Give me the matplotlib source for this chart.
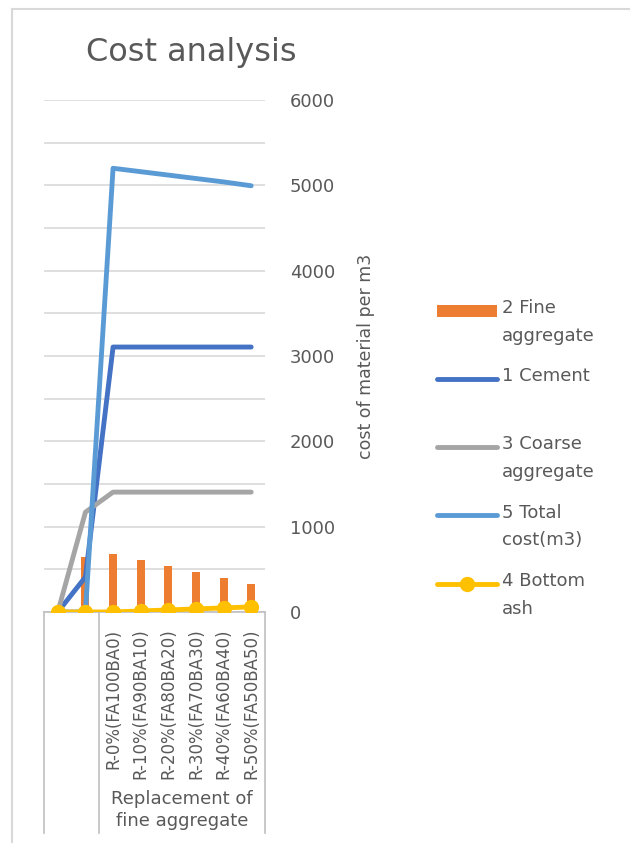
import numpy as np
import matplotlib
matplotlib.use("Agg")
import matplotlib.pyplot as plt
from matplotlib.lines import Line2D
from matplotlib.transforms import Affine2D
from matplotlib.legend_handler import HandlerLine2D, HandlerPatch, update_from_first_child

# data
categories = ["", "", "R-0%(FA100BA0)", "R-10%(FA90BA10)", "R-20%(FA80BA20)",
              "R-30%(FA70BA30)", "R-40%(FA60BA40)", "R-50%(FA50BA50)"]
fine_agg = [0, 645, 678, 610, 540, 470, 400, 330]
cement = [0, 410, 3105, 3105, 3105, 3105, 3105, 3105]
coarse_agg = [0, 1170, 1405, 1405, 1405, 1405, 1405, 1405]
total_cost = [0, 0, 5200, 5160, 5120, 5080, 5040, 4995]
bottom_ash = [0, 0, 0, 12, 24, 36, 48, 60]
group_label = "Replacement of\nfine aggregate"

TXT = "#595959"
GRID = "#d9d9d9"
W, H = 630, 843

plt.rcParams["font.family"] = ["DejaVu Sans"]

fig = plt.figure(figsize=(W / 100, H / 100), dpi=100)
ax = fig.add_axes([44 / W, (H - 612) / H, (265 - 44) / W, (612 - 100) / H])

x = np.arange(len(categories))
bars = ax.bar(x, fine_agg, width=0.29, color="#ED7D31", zorder=2, label="2 Fine\naggregate")
l_cem, = ax.plot(x, cement, color="#4472C4", lw=3.5, solid_capstyle="round",
                 solid_joinstyle="round", zorder=3, label="1 Cement\n ")
l_ca, = ax.plot(x, coarse_agg, color="#A5A5A5", lw=3.5, solid_capstyle="round",
                solid_joinstyle="round", zorder=3, label="3 Coarse\naggregate")
l_tot, = ax.plot(x, total_cost, color="#5B9BD5", lw=3.5, solid_capstyle="round",
                 solid_joinstyle="round", zorder=4, label="5 Total\ncost(m3)")
l_ba, = ax.plot(x, bottom_ash, color="#FFC000", lw=3.5, marker="o", markersize=10,
                solid_capstyle="round", zorder=5, label="4 Bottom\nash")

ax.set_xlim(-0.5, len(categories) - 0.5)
ax.set_ylim(0, 6000)
ax.set_yticks(np.arange(0, 6001, 1000))
ax.set_yticks(np.arange(500, 6000, 1000), minor=True)
ax.grid(axis="y", which="both", color=GRID, lw=1.2, zorder=0)
ax.set_axisbelow(True)
ax.yaxis.tick_right()
ax.tick_params(axis="y", which="both", length=0, pad=18, labelsize=13, labelcolor=TXT)
ax.yaxis.set_label_position("right")
ax.set_ylabel("cost of material per m3", fontsize=12.5, color=TXT, labelpad=16)

ax.set_xticks(x)
ax.set_xticklabels(categories, rotation=90, fontsize=12, color=TXT, va="top")
ax.tick_params(axis="x", length=0, pad=12)

for s in ["top", "left", "right"]:
    ax.spines[s].set_visible(False)
ax.spines["bottom"].set_color("#bfbfbf")
ax.spines["bottom"].set_linewidth(1.2)

# multi-level category axis dividers
depth = -(833 - 612) / (612 - 100)
for xd in [-0.5, 1.5, len(categories) - 0.5]:
    ax.plot([xd, xd], [0, depth], transform=ax.get_xaxis_transform(),
            color="#bfbfbf", lw=1.2, clip_on=False)
ax.text(4.5, -(810 - 612) / (612 - 100), group_label, transform=ax.get_xaxis_transform(),
        ha="center", va="center", fontsize=13, color=TXT, linespacing=1.3)

fig.text(191 / W, 1 - 53 / H, "Cost analysis", ha="center", va="center",
         fontsize=23, color=TXT)

# chart area border (left and top edges only are inside the picture)
fig.add_artist(Line2D([12 / W, 12 / W], [0, 1 - 9 / H], transform=fig.transFigure,
                      color=GRID, lw=1.5))
fig.add_artist(Line2D([12 / W, 1], [1 - 9 / H, 1 - 9 / H], transform=fig.transFigure,
                      color=GRID, lw=1.5))


class RaisedLine(HandlerLine2D):
    def __init__(self, dy, **kw):
        super().__init__(**kw)
        self.dy = dy

    def create_artists(self, legend, orig_handle, xdescent, ydescent, width, height, fontsize, trans):
        return super().create_artists(legend, orig_handle, xdescent, ydescent, width, height,
                                      fontsize, Affine2D().translate(0, self.dy) + trans)


class RaisedPatch(HandlerPatch):
    def __init__(self, dy, **kw):
        super().__init__(**kw)
        self.dy = dy

    def create_artists(self, legend, orig_handle, xdescent, ydescent, width, height, fontsize, trans):
        return super().create_artists(legend, orig_handle, xdescent, ydescent, width, height,
                                      fontsize, Affine2D().translate(0, self.dy) + trans)


leg_fs = 13
leg_ls = 1.7
dy = 0.5 * leg_ls * 0.76 * leg_fs
handles = [bars, l_cem, l_ca, l_tot, l_ba]
hmap = {bars: RaisedPatch(dy, update_func=update_from_first_child)}
for h in handles[1:]:
    hmap[h] = RaisedLine(dy)
leg = fig.legend(handles, [h.get_label() for h in handles], handler_map=hmap,
                 loc="upper left", bbox_to_anchor=(437 / W, 1 - 299 / H),
                 frameon=False, fontsize=leg_fs, labelcolor=TXT, handlelength=3.3,
                 handletextpad=0.3, labelspacing=1.24, borderpad=0, borderaxespad=0,
                 numpoints=1)
for t in leg.get_texts():
    t.set_linespacing(leg_ls)

fig.savefig("out.png", dpi=100)
